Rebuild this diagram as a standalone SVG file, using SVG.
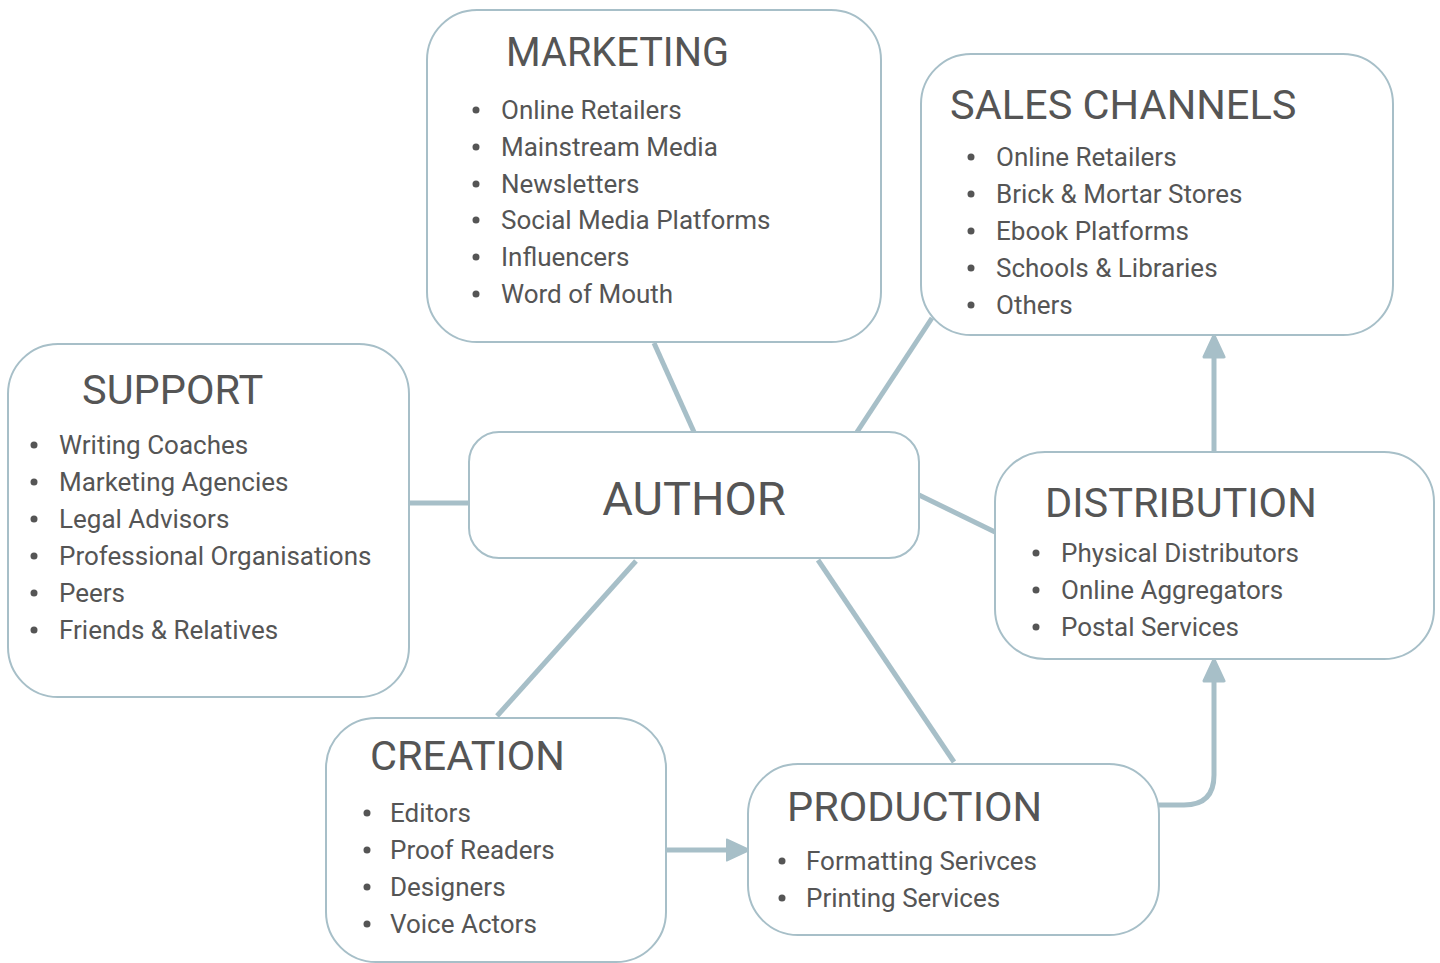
<svg xmlns="http://www.w3.org/2000/svg" width="1440" height="963" viewBox="0 0 1440 963">
<style>
.box{fill:#fff;stroke:#a7bfc8;stroke-width:2}
.t{font-family:Roboto,"Liberation Sans",sans-serif;fill:#555;font-size:41.5px}
.i{font-family:Roboto,"Liberation Sans",sans-serif;fill:#555;font-size:26px}
.b{fill:#555}
.c{stroke:#a7bfc8;stroke-width:5;fill:none}
</style>
<defs>
<marker id="ah" markerWidth="5" markerHeight="5" refX="2.5" refY="2.5" orient="auto" markerUnits="strokeWidth">
<path d="M0.3,0.5 L4.6,2.5 L0.3,4.5 Z" fill="#a7bfc8" stroke="#a7bfc8" stroke-width="0.6" stroke-linejoin="round"/>
</marker>
</defs>
<g id="connectors">
<line class="c" x1="654" y1="343" x2="694" y2="432"/>
<line class="c" x1="932" y1="318" x2="857" y2="432"/>
<line class="c" x1="409" y1="503" x2="469" y2="503"/>
<line class="c" x1="919" y1="495" x2="995" y2="532"/>
<line class="c" x1="636" y1="561" x2="497" y2="716"/>
<line class="c" x1="818" y1="560" x2="954" y2="762"/>
<path class="c" d="M666,850 H738" marker-end="url(#ah)"/>
<path class="c" d="M1214,452 V346" marker-end="url(#ah)"/>
<path class="c" d="M1159,805 H1184 Q1214,805 1214,775 V670" marker-end="url(#ah)"/>
</g>
<g id="marketing">
<rect class="box" x="427" y="10" width="454" height="332" rx="50"/>
<text class="t" x="506" y="66" textLength="223" lengthAdjust="spacingAndGlyphs">MARKETING</text>
<g class="b"><circle cx="476" cy="110" r="3.5"/><circle cx="476" cy="147" r="3.5"/><circle cx="476" cy="184" r="3.5"/><circle cx="476" cy="220" r="3.5"/><circle cx="476" cy="257" r="3.5"/><circle cx="476" cy="294" r="3.5"/></g>
<text class="i" x="501" y="119">Online Retailers</text>
<text class="i" x="501" y="156">Mainstream Media</text>
<text class="i" x="501" y="193">Newsletters</text>
<text class="i" x="501" y="229">Social Media Platforms</text>
<text class="i" x="501" y="266">Influencers</text>
<text class="i" x="501" y="303">Word of Mouth</text>
</g>
<g id="sales">
<rect class="box" x="921" y="54" width="472" height="281" rx="50"/>
<text class="t" x="950" y="119">SALES CHANNELS</text>
<g class="b"><circle cx="971" cy="157" r="3.5"/><circle cx="971" cy="194" r="3.5"/><circle cx="971" cy="231" r="3.5"/><circle cx="971" cy="268" r="3.5"/><circle cx="971" cy="305" r="3.5"/></g>
<text class="i" x="996" y="166">Online Retailers</text>
<text class="i" x="996" y="203">Brick &amp; Mortar Stores</text>
<text class="i" x="996" y="240">Ebook Platforms</text>
<text class="i" x="996" y="277">Schools &amp; Libraries</text>
<text class="i" x="996" y="314">Others</text>
</g>
<g id="support">
<rect class="box" x="8" y="344" width="401" height="353" rx="50"/>
<text class="t" x="82" y="404">SUPPORT</text>
<g class="b"><circle cx="34" cy="445" r="3.5"/><circle cx="34" cy="482" r="3.5"/><circle cx="34" cy="519" r="3.5"/><circle cx="34" cy="556" r="3.5"/><circle cx="34" cy="593" r="3.5"/><circle cx="34" cy="630" r="3.5"/></g>
<text class="i" x="59" y="454">Writing Coaches</text>
<text class="i" x="59" y="491">Marketing Agencies</text>
<text class="i" x="59" y="528">Legal Advisors</text>
<text class="i" x="59" y="565">Professional Organisations</text>
<text class="i" x="59" y="602">Peers</text>
<text class="i" x="59" y="639">Friends &amp; Relatives</text>
</g>
<g id="author">
<rect class="box" x="469" y="432" width="450" height="126" rx="30"/>
<text class="t" x="694" y="515" text-anchor="middle" style="font-size:47px">AUTHOR</text>
</g>
<g id="distribution">
<rect class="box" x="995" y="452" width="439" height="207" rx="50"/>
<text class="t" x="1045" y="517">DISTRIBUTION</text>
<g class="b"><circle cx="1036" cy="553" r="3.5"/><circle cx="1036" cy="590" r="3.5"/><circle cx="1036" cy="627" r="3.5"/></g>
<text class="i" x="1061" y="562">Physical Distributors</text>
<text class="i" x="1061" y="599">Online Aggregators</text>
<text class="i" x="1061" y="636">Postal Services</text>
</g>
<g id="creation">
<rect class="box" x="326" y="718" width="340" height="244" rx="50"/>
<text class="t" x="370" y="770">CREATION</text>
<g class="b"><circle cx="367" cy="813" r="3.5"/><circle cx="367" cy="850" r="3.5"/><circle cx="367" cy="887" r="3.5"/><circle cx="367" cy="924" r="3.5"/></g>
<text class="i" x="390" y="822">Editors</text>
<text class="i" x="390" y="859">Proof Readers</text>
<text class="i" x="390" y="896">Designers</text>
<text class="i" x="390" y="933">Voice Actors</text>
</g>
<g id="production">
<rect class="box" x="748" y="764" width="411" height="171" rx="50"/>
<text class="t" x="787" y="821">PRODUCTION</text>
<g class="b"><circle cx="782" cy="861" r="3.5"/><circle cx="782" cy="898" r="3.5"/></g>
<text class="i" x="806" y="870">Formatting Serivces</text>
<text class="i" x="806" y="907">Printing Services</text>
</g>
</svg>
